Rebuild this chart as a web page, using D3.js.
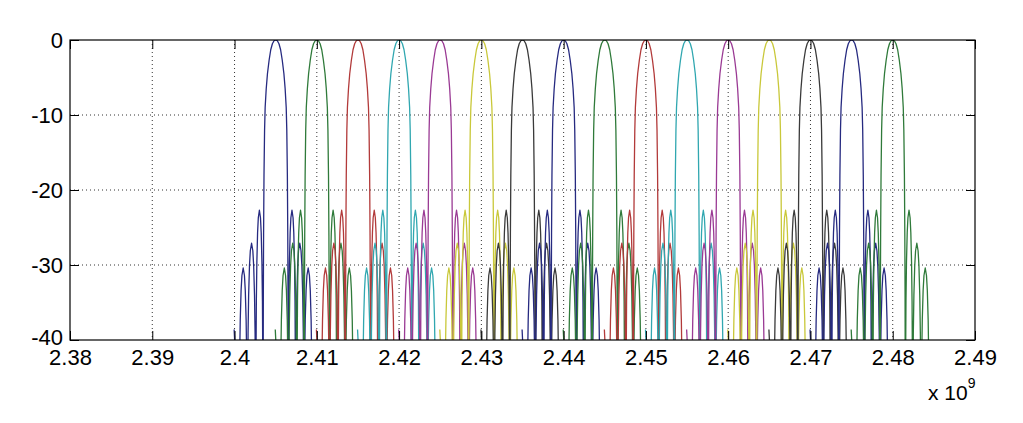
<!DOCTYPE html>
<html>
<head>
<meta charset="utf-8">
<script src="https://cdn.jsdelivr.net/npm/d3@7/dist/d3.min.js"></script>
<style>
  html, body { margin: 0; padding: 0; background: #fff; }
  svg { display: block; }
  text { font-family: "Liberation Sans", Arial, sans-serif; fill: #000; }
</style>
</head>
<body>
<svg id="chart" width="1023" height="423"></svg>
<script>
// ---- data ----
const channelCentersGHz = [2.405, 2.410, 2.415, 2.420, 2.425, 2.430, 2.435, 2.440,
                           2.445, 2.450, 2.455, 2.460, 2.465, 2.470, 2.475, 2.480];
// spectral shape of one channel, offset from centre (MHz) and level (dB)
const shapeOffsetMHz = [
  -5.05, -4.90, -4.60, -4.46,
  -4.429, -4.378, -4.307, -4.205, -4.103, -3.95, -3.797, -3.695, -3.593, -3.522, -3.471, -3.44,
  -3.409, -3.358, -3.287, -3.185, -3.083, -2.93, -2.777, -2.675, -2.573, -2.502, -2.451, -2.42,
  -2.394, -2.35, -2.288, -2.2, -2.112, -1.98, -1.848, -1.76, -1.672, -1.61, -1.566, -1.54,
  -1.52, -1.50, -1.47, -1.42, -1.35, -1.28, -1.15, -1.0, -0.8, -0.6, -0.4, -0.2,
  0,
  0.2, 0.4, 0.6, 0.8, 1.0, 1.15, 1.28, 1.35, 1.42, 1.47, 1.50, 1.52,
  1.54, 1.566, 1.61, 1.672, 1.76, 1.848, 1.98, 2.112, 2.2, 2.288, 2.35, 2.394,
  2.42, 2.451, 2.502, 2.573, 2.675, 2.777, 2.93, 3.083, 3.185, 3.287, 3.358, 3.409,
  3.44, 3.471, 3.522, 3.593, 3.695, 3.797, 3.95, 4.103, 4.205, 4.307, 4.378, 4.429, 4.46
];
const shapeLevelDb = [
  -38.6, -42, -55, -70,
  -50.9, -42.5, -37.3, -33.4, -31.4, -30.4, -31.4, -33.4, -37.3, -42.5, -50.9, -70,
  -47.6, -39.2, -34.0, -30.1, -28.1, -27.1, -28.1, -30.1, -34.0, -39.2, -47.6, -70,
  -43.2, -34.8, -29.6, -25.7, -23.7, -22.7, -23.7, -25.7, -29.6, -34.8, -43.2, -70,
  -45, -34, -26, -18, -12, -9, -6.5, -4.5, -2.7, -1.3, -0.5, -0.1,
  0,
  -0.1, -0.5, -1.3, -2.7, -4.5, -6.5, -9, -12, -18, -26, -34, -45,
  -70, -43.2, -34.8, -29.6, -25.7, -23.7, -22.7, -23.7, -25.7, -29.6, -34.8, -43.2,
  -70, -47.6, -39.2, -34.0, -30.1, -28.1, -27.1, -28.1, -30.1, -34.0, -39.2, -47.6,
  -70, -50.9, -42.5, -37.3, -33.4, -31.4, -30.4, -31.4, -33.4, -37.3, -42.5, -50.9, -70
];
const xTicks = [2.38, 2.39, 2.40, 2.41, 2.42, 2.43, 2.44, 2.45, 2.46, 2.47, 2.48, 2.49];
const xTickLabels = ["2.38", "2.39", "2.4", "2.41", "2.42", "2.43", "2.44", "2.45", "2.46", "2.47", "2.48", "2.49"];
const yTicks = [0, -10, -20, -30, -40];
const yTickLabels = ["0", "-10", "-20", "-30", "-40"];
const xDomain = [2.38, 2.49];
const yDomain = [-40, 0];

// ---- styles ----
const lineColors = ["#262a80", "#2f7a3a", "#b23a3a", "#30a7b0", "#9a3a94", "#c9c83a", "#3a3a3a"];

const margin = { left: 70, right: 48, top: 40, bottom: 83 };
const W = 1023, H = 423;
const iw = W - margin.left - margin.right;
const ih = H - margin.top - margin.bottom;

const svg = d3.select("#chart");
const g = svg.append("g").attr("transform", `translate(${margin.left},${margin.top})`);

const x = d3.scaleLinear().domain(xDomain).range([0, iw]);
const y = d3.scaleLinear().domain(yDomain).range([ih, 0]);

svg.append("defs").append("clipPath").attr("id", "clip")
  .append("rect").attr("x", 0).attr("y", 0).attr("width", iw).attr("height", ih);

// grid
const gridG = g.append("g");
gridG.selectAll(".gx").data(xTicks.slice(1, -1)).join("line")
  .attr("x1", d => x(d)).attr("x2", d => x(d)).attr("y1", 0).attr("y2", ih)
  .attr("stroke", "#333").attr("stroke-width", 1).attr("stroke-dasharray", "1,3");
gridG.selectAll(".gy").data(yTicks.slice(1, -1)).join("line")
  .attr("y1", d => y(d)).attr("y2", d => y(d)).attr("x1", 0).attr("x2", iw)
  .attr("stroke", "#333").attr("stroke-width", 1).attr("stroke-dasharray", "1,3");

// curves
const line = d3.line().x(d => x(d[0])).y(d => y(d[1]));
const curves = g.append("g").attr("clip-path", "url(#clip)");
channelCentersGHz.forEach((c, i) => {
  const pts = shapeOffsetMHz.map((o, j) => [c + o / 1000, shapeLevelDb[j]]);
  curves.append("path").datum(pts)
    .attr("d", line)
    .attr("fill", "none")
    .attr("stroke", lineColors[i % lineColors.length])
    .attr("stroke-width", 1.3)
    .attr("stroke-linejoin", "round");
});

// axes
const fmtX = (d) => xTickLabels[xTicks.indexOf(d)];
const fmtY = (d) => yTickLabels[yTicks.indexOf(d)];
const tickLen = 9;

const axB = g.append("g").attr("transform", `translate(0,${ih})`)
  .call(d3.axisBottom(x).tickValues(xTicks).tickFormat(fmtX).tickSizeInner(-tickLen).tickSizeOuter(0).tickPadding(9));
const axT = g.append("g")
  .call(d3.axisTop(x).tickValues(xTicks).tickFormat("").tickSizeInner(-tickLen).tickSizeOuter(0));
const axL = g.append("g")
  .call(d3.axisLeft(y).tickValues(yTicks).tickFormat(fmtY).tickSizeInner(-tickLen).tickSizeOuter(0).tickPadding(7));
const axR = g.append("g").attr("transform", `translate(${iw},0)`)
  .call(d3.axisRight(y).tickValues(yTicks).tickFormat("").tickSizeInner(-tickLen).tickSizeOuter(0));

[axB, axT, axL, axR].forEach(a => {
  a.select(".domain").remove();
  a.selectAll("line").attr("stroke", "#000").attr("stroke-width", 1);
  a.selectAll("text").attr("font-size", 22).attr("font-family", '"Liberation Sans", Arial, sans-serif').attr("fill", "#000");
});
// keep the lowest y label just clear of the first x label
axL.selectAll("text").filter(d => d === -40).attr("dy", "0.2em");

// box
g.append("rect").attr("x", 0).attr("y", 0).attr("width", iw).attr("height", ih)
  .attr("fill", "none").attr("stroke", "#000").attr("stroke-width", 1.2);

// exponent label
const expText = svg.append("text").attr("x", 928).attr("y", 400).attr("font-size", 21);
expText.append("tspan").text("x 10");
expText.append("tspan").attr("dy", -12).attr("font-size", 14).text("9");
</script>
</body>
</html>
